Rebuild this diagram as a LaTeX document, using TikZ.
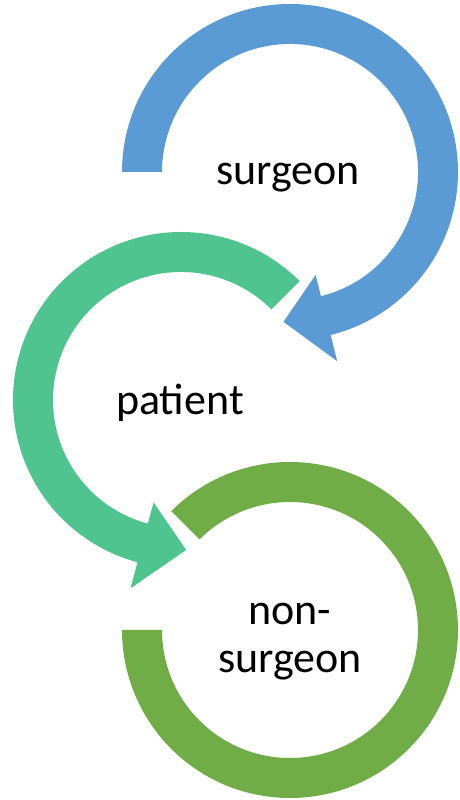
\documentclass[tikz,border=0pt]{standalone}
\usepackage{fontspec}
\setmainfont{Carlito}
\usepackage{tikz}
\definecolor{ringblue}{HTML}{5B9BD5}
\definecolor{ringteal}{HTML}{4FC48E}
\definecolor{ringgreen}{HTML}{70AD47}
\begin{document}
\begin{tikzpicture}[x=1pt,y=1pt,
label/.style={font=\fontsize{44}{48}\selectfont, align=center, inner sep=0pt},
ring/.style={draw=none}]
\useasboundingbox (0,0) rectangle (459,800);
\coordinate (surg) at (290,628);
\coordinate (pat) at (181,400);
\coordinate (nons) at (290,170);
% surgeon
\begin{scope}[shift={(surg)}]
\fill[ringblue] (180:168) arc[start angle=180, end angle=-76, radius=168]
  -- (-76:195) -- (-92.5:150) -- (-76:106) -- (-76:128)
  arc[start angle=-76, end angle=180, radius=128] -- cycle;
\end{scope}
% patient
\begin{scope}[shift={(pat)}]
\fill[ringteal] (45:168) arc[start angle=45, end angle=255, radius=168]
  -- (255:195) -- (272:150) -- (255:106) -- (255:128)
  arc[start angle=255, end angle=45, radius=128] -- cycle;
\end{scope}
% non-surgeon
\begin{scope}[shift={(nons)}]
\fill[ringgreen] (135:168) arc[start angle=135, end angle=-180, radius=168]
  -- (180:128) arc[start angle=-180, end angle=135, radius=128] -- cycle;
\end{scope}
\node[label, anchor=base] (surgeon) at (288,615) {surgeon};
\node[label, anchor=base] (patient) at (180,385) {patient};
\node[label] (nonsurgeon) at (290,158) {non-\\surgeon};
\end{tikzpicture}
\end{document}
